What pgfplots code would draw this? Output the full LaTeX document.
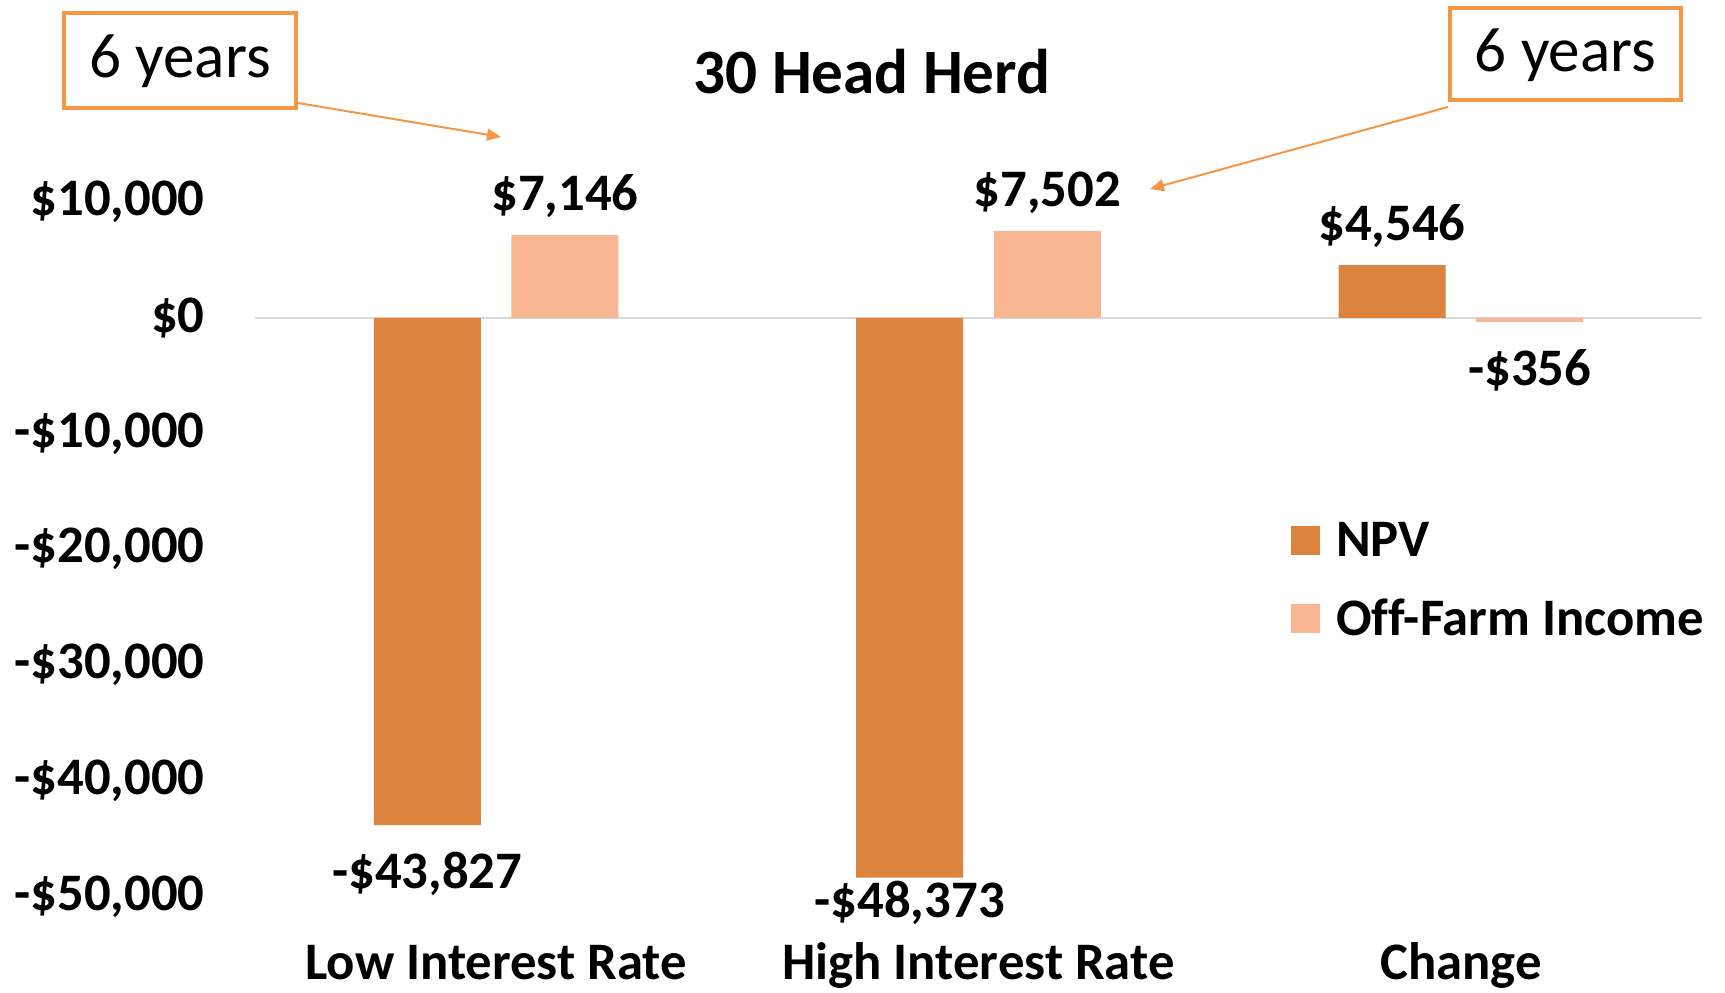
\documentclass[border=0pt]{standalone}
\usepackage{fontspec}
\setmainfont{Carlito}[Ligatures=NoCommon]
\usepackage{pgfplots}
\pgfplotsset{compat=1.18}
\usetikzlibrary{arrows.meta}
\definecolor{npv}{RGB}{220,132,62}
\definecolor{ofi}{RGB}{248,182,146}
\definecolor{ann}{RGB}{247,150,70}
\definecolor{zero}{RGB}{217,217,217}
\newcommand\bodyfont{\fontsize{26.35}{31}\selectfont\bfseries}
\newcommand\bigfont{\fontsize{31.6}{38}\selectfont}
\begin{document}
\begin{tikzpicture}
\useasboundingbox (0,0) rectangle (862.5pt,496pt);
\begin{axis}[
  at={(127.5pt,47.75pt)}, anchor=south west,
  scale only axis, width=723.5pt, height=347.25pt,
  xmin=-0.5, xmax=2.5, ymin=-50000, ymax=10000,
  axis line style={draw=none},
  major tick length=0pt,
  scaled y ticks=false,
  ytick={-50000,-40000,-30000,-20000,-10000,0,10000},
  yticklabels={{-\$50,000},{-\$40,000},{-\$30,000},{-\$20,000},{-\$10,000},{\$0},{\$10,000}},
  xtick={0,1,2},
  xticklabels={Low Interest Rate,High Interest Rate,Change},
  ticklabel style={font=\bodyfont},
  yticklabel style={anchor=east, inner sep=0pt, xshift=-25pt},
  xticklabel style={anchor=base, inner sep=0pt, yshift=-41.5pt},
  extra y ticks={0}, extra y tick labels={},
  extra y tick style={grid=major, major grid style={zero, line width=0.75pt}},
  ybar, bar width=53.5pt,
  clip=false,
  point meta=explicit symbolic,
  nodes near coords,
  every node near coord/.append style={font=\bodyfont, inner sep=0pt, text height=31.8pt, text depth=12.2pt},
  legend style={draw=none, fill=none, inner sep=0pt, outer sep=0pt,
    at={(0.716,0.545)}, anchor=north west, font=\bodyfont,
    row sep=16pt, column sep=6pt},
  legend cell align=left,
  legend image code/.code={\fill[#1] (0pt,-7.25pt) rectangle (14.5pt,7.25pt);},
]
\addplot[fill=npv, draw=none, bar shift=-34.4pt] coordinates {
  (0,-43827) [\raisebox{-44pt}{-\$43,827}]
  (1,-48373) [\raisebox{-32.1pt}{-\$48,373}]
  (2,4546) [\$4,546]
};
\addlegendentry{NPV}
\addplot[fill=ofi, draw=none, bar shift=34.4pt] coordinates {
  (0,7146) [\$7,146]
  (1,7502) [\$7,502]
  (2,-356) [\raisebox{-44pt}{-\$356}]
};
\addlegendentry{Off-Farm Income}
\end{axis}
% title
\node[anchor=base, font=\bigfont\bfseries] at (436pt,449.25pt) {30 Head Herd};
% annotations
\draw[ann, line width=2pt] (32pt,442pt) rectangle (148pt,489.5pt);
\node[anchor=base, font=\bigfont] at (90pt,457pt) {6 years};
\draw[ann, line width=2pt] (725pt,446pt) rectangle (840.5pt,492pt);
\node[anchor=base, font=\bigfont] at (782.75pt,460pt) {6 years};
\draw[ann, line width=1pt, -{Triangle[length=7pt,width=6pt]}] (149pt,444.5pt) -- (250.5pt,427.5pt);
\draw[ann, line width=1pt, -{Triangle[length=7pt,width=6pt]}] (724pt,442.5pt) -- (575pt,401.5pt);
\end{tikzpicture}
\end{document}
